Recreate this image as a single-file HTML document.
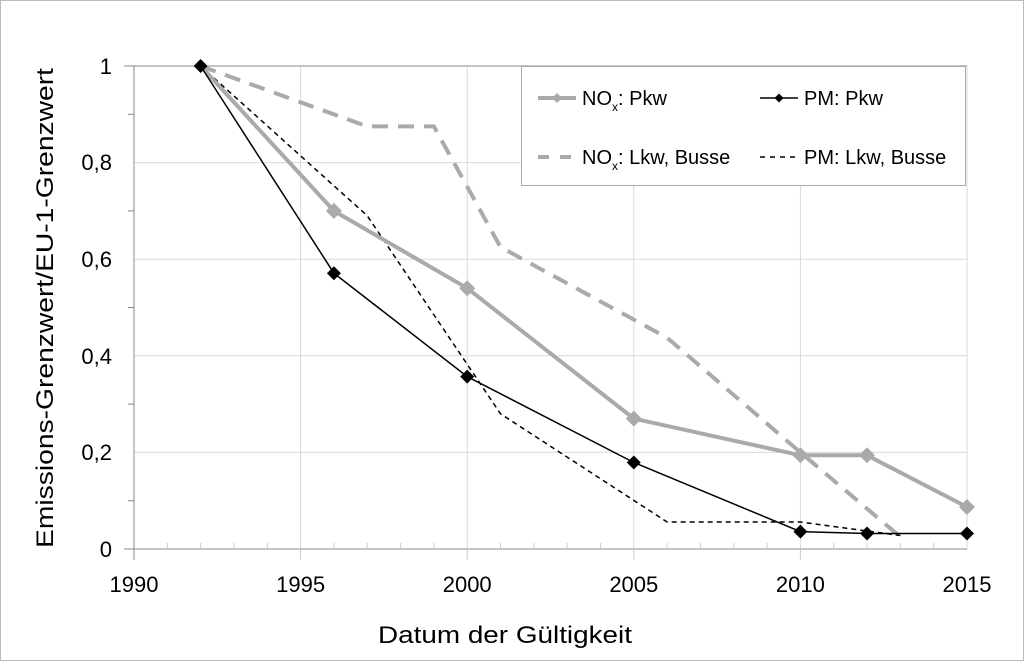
<!DOCTYPE html>
<html><head><meta charset="utf-8"><style>
html,body{margin:0;padding:0;background:#fff}
svg{display:block;font-family:"Liberation Sans",sans-serif}
</style></head><body>
<svg width="1024" height="661" viewBox="0 0 1024 661" xmlns="http://www.w3.org/2000/svg">
<rect x="0.5" y="0.5" width="1023" height="660" fill="#fff" stroke="#bbb"/>
<g stroke="#d9d9d9" stroke-width="1">
<line x1="134" y1="162.6" x2="967" y2="162.6"/><line x1="134" y1="259.2" x2="967" y2="259.2"/>
<line x1="134" y1="355.8" x2="967" y2="355.8"/><line x1="134" y1="452.4" x2="967" y2="452.4"/>
<line x1="300.6" y1="66" x2="300.6" y2="549"/><line x1="467.2" y1="66" x2="467.2" y2="549"/>
<line x1="633.8" y1="66" x2="633.8" y2="549"/><line x1="800.4" y1="66" x2="800.4" y2="549"/>
<line x1="967" y1="66" x2="967" y2="549"/>
</g>
<g stroke="#888" stroke-width="1">
<line x1="124" y1="66" x2="967" y2="66"/>
<line x1="124" y1="549" x2="967" y2="549"/>
<line x1="134" y1="66" x2="134" y2="560"/>
<line x1="128" y1="114.3" x2="134" y2="114.3"/><line x1="128" y1="210.9" x2="134" y2="210.9"/>
<line x1="128" y1="307.5" x2="134" y2="307.5"/><line x1="128" y1="404.1" x2="134" y2="404.1"/>
<line x1="128" y1="500.7" x2="134" y2="500.7"/>
</g>
<g stroke="#ccc" stroke-width="1" id="mt"></g>
<script>
var g=document.getElementById('mt');for(var i=1;i<25;i++){var x=134+i*33.32;var l=document.createElementNS('http://www.w3.org/2000/svg','line');l.setAttribute('x1',x);l.setAttribute('x2',x);l.setAttribute('y1',i%5==0?549:543);l.setAttribute('y2',i%5==0?560:549);g.appendChild(l);}
</script>
<g font-size="22" fill="#000" text-anchor="end">
<text x="112" y="74">1</text><text x="112" y="170">0,8</text><text x="112" y="267">0,6</text>
<text x="112" y="364">0,4</text><text x="112" y="460">0,2</text><text x="112" y="557">0</text>
</g>
<g font-size="22" fill="#000" text-anchor="middle">
<text x="134" y="592">1990</text><text x="300.6" y="592">1995</text><text x="467.2" y="592">2000</text>
<text x="633.8" y="592">2005</text><text x="800.4" y="592">2010</text><text x="967" y="592">2015</text>
</g>
<text x="378" y="643" font-size="24" textLength="254" lengthAdjust="spacingAndGlyphs">Datum der Gültigkeit</text>
<text transform="translate(53,548) rotate(-90)" font-size="24" textLength="480" lengthAdjust="spacingAndGlyphs">Emissions-Grenzwert/EU-1-Grenzwert</text>
<polyline fill="none" stroke="#aaa" stroke-width="4" stroke-dasharray="16,10" points="200.6,66 367.2,126.4 433.9,126.4 500.5,247.1 667.1,337.7 800.4,452.4 900.4,536.9"/>
<polyline fill="none" stroke="#000" stroke-width="1.5" stroke-dasharray="5,4" points="200.6,66 367.2,215.7 500.5,413.8 667.1,522 800.4,522 900.4,535.5"/>
<polyline fill="none" stroke="#aaa" stroke-width="4" points="200.6,66 333.9,210.9 467.2,288.2 633.8,418.6 800.4,455.3 867,455.3 967,507"/>
<g fill="#aaa">
<path d="M333.9,202.9l8,8l-8,8l-8,-8z"/><path d="M467.2,280.2l8,8l-8,8l-8,-8z"/><path d="M633.8,410.6l8,8l-8,8l-8,-8z"/>
<path d="M800.4,447.3l8,8l-8,8l-8,-8z"/><path d="M867,447.3l8,8l-8,8l-8,-8z"/><path d="M967,499l8,8l-8,8l-8,-8z"/>
</g>
<polyline fill="none" stroke="#000" stroke-width="1.5" points="200.6,66 333.9,273.2 467.2,376.6 633.8,462.5 800.4,531.6 867,533.5 967,533.5"/>
<g fill="#000">
<path d="M200.6,59l7,7l-7,7l-7,-7z"/><path d="M333.9,266.2l7,7l-7,7l-7,-7z"/><path d="M467.2,369.6l7,7l-7,7l-7,-7z"/>
<path d="M633.8,455.5l7,7l-7,7l-7,-7z"/><path d="M800.4,524.6l7,7l-7,7l-7,-7z"/><path d="M867,526.5l7,7l-7,7l-7,-7z"/><path d="M967,526.5l7,7l-7,7l-7,-7z"/>
</g>
<rect x="521.5" y="66.5" width="444" height="119" fill="#fff" stroke="#aaa"/>
<line x1="538" y1="98" x2="576" y2="98" stroke="#aaa" stroke-width="4"/><path d="M557,93l5,5l-5,5l-5,-5z" fill="#aaa"/>
<line x1="538" y1="157" x2="576" y2="157" stroke="#aaa" stroke-width="4" stroke-dasharray="11,11"/>
<line x1="760" y1="98" x2="798" y2="98" stroke="#000" stroke-width="1.5"/><path d="M779,93.5l4.5,4.5l-4.5,4.5l-4.5,-4.5z"/>
<line x1="760" y1="157" x2="798" y2="157" stroke="#000" stroke-width="1.5" stroke-dasharray="5,5"/>
<g font-size="20">
<text x="582" y="105">NO<tspan font-size="12" dy="6">x</tspan><tspan dy="-6">: Pkw</tspan></text>
<text x="582" y="164">NO<tspan font-size="12" dy="6">x</tspan><tspan dy="-6">: Lkw, Busse</tspan></text>
<text x="804" y="105">PM: Pkw</text>
<text x="804" y="164">PM: Lkw, Busse</text>
</g>
</svg>
</body></html>
